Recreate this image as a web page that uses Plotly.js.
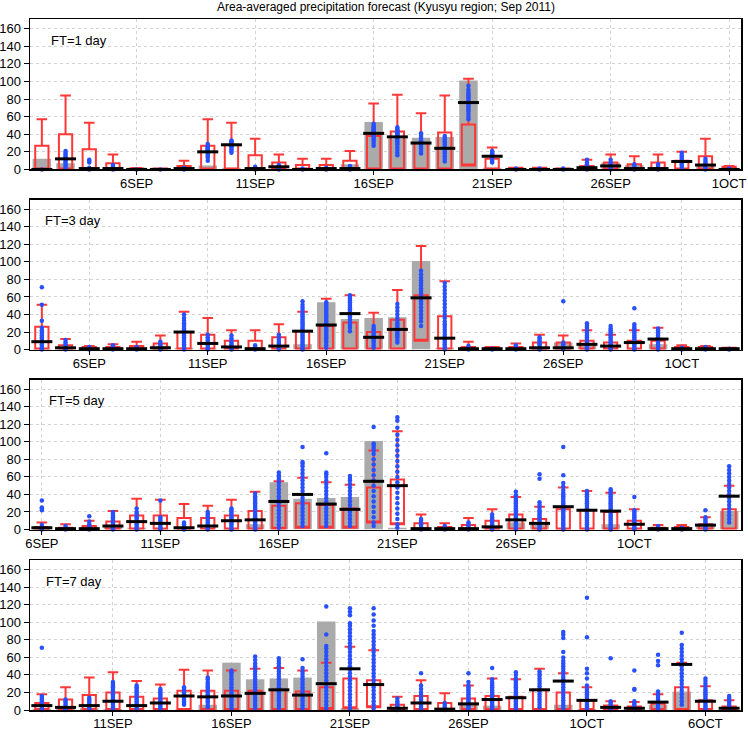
<!DOCTYPE html>
<html>
<head>
<meta charset="utf-8">
<script src="https://cdn.plot.ly/plotly-3.0.1.min.js"></script>
<style>
  body { margin: 0; background: #fff; }
  #myDiv { width: 748px; height: 731px; }
</style>
</head>
<body>
<div id="myDiv"></div>
<script>
// tick labels (day number: Sep d = d, Oct d = 30 + d)
var tickVals = [6, 11, 16, 21, 26, 31, 36];
var tickText = ['6SEP', '11SEP', '16SEP', '21SEP', '26SEP', '1OCT', '6OCT'];

// observed area-averaged precipitation, Sep 2 .. Oct 7
var obsStart = 2;
var obs = [12, 7, 1, 0, 0.5, 0, 1.5, 4.5, 2, 1, 0, 0, 0.5, 6, 54, 35, 36, 37, 101, 2,
           0, 0, 0, 1, 8, 5, 0, 0, 6, 1, 0, 0, 6, 21, 0, 0];

// FT=1 day, Sep 2 .. Oct 1
var ft1Start = 2;
var ft1Bot  = [0,0,0,0,0,0,0,0,0,0,0,0,0,0,0, 0,0,0,4.5,0,0,0,0,0,0,0,0,0,0,0];
var ft1Top  = [27,40,23,7,1,1,4,27,28,16,8,5,5,10,38, 43,30,42,51,12,2,2,1,4,8,6,8,10,15,3];
var ft1Whis = [57,84,53,17,1.5,1,10,57,53,35,17,12,12,21,75, 85,64,84,103,25,2,2,1,11,17,15,17,20,35,4];
var ft1Mean = [0,12,1,1,0,0,1,20,28,1,3,0,1,1,41, 37,30,24,76,15,0,0,0,2,4,1,1,9,5,0];
var ft1Members = [
  [0], [1,3,5,7,9,11,13,15,17,19,21], [0,1,2,8,10,11], [0,1,3,5], [0], [0], [0,1,2],
  [10,13,15,17,19,20,21,22,23,24,25,26,27,29], [19,21,23,25,26,27,28,29,30,31,32,33],
  [0,1,2,3], [0,1,2,3,4,5], [0,1], [0,1,2], [0,1,2,4],
  [27,30,33,35,37,38,39,40,41,42,43,44,45,46,47,48,50,52],
  [16,19,22,25,28,30,32,34,36,38,39,40,41,42,43,44,45,46,48],
  [18,21,24,26,28,29,30,31,32,33,35,37,39,41],
  [9,12,15,18,20,22,24,26,28,30,32,34,36,38],
  [57,60,63,66,68,70,72,74,76,77,78,80,82,84,86,88,91,95],
  [8,10,12,14,15,16,17,18,19,20,21], [0,1], [0,1], [0,1], [0,1,2,4,6,8,11],
  [0,2,4,6,8,11], [0,1,2,4,6], [0,1,2,4,6], [2,4,6,8,10,12,14,16,19],
  [0,2,4,6,8,10,12], [0,1]
];

// FT=3 day, Sep 4 .. Oct 3
var ft3Start = 4;
var ft3Bot  = [0,0,0,0,0,0,0,0,0,0,0,0,0,0,0, 0,10,0,0,0,0,0,0,0,0,0,0,0,0,0];
var ft3Top  = [26,5,3,3,4,7,20,17,10,10,14,21,27,31,20, 34,62,38,3,3,3,8,8,10,8,10,10,3,3,2];
var ft3Whis = [51,12,4,6,9,16,43,36,22,22,29,43,58,62,42, 68,118,78,9,3,7,17,16,22,17,22,25,5,4,2];
var ft3Mean = [9,2,1,1,1,2,20,7,3,1,4,21,28,41,14, 23,59,13,1,1,1,2,2,6,4,8,12,1,1,1];
var ft3Members = [
  [0,1,2,4,6,8,10,12,14,16,18,20,22,25,33,51,71], [0,1,2,4,6,8,11], [0,1,3], [0,1,3,5],
  [0,1,3], [0,1,2,4,6,9], [0,2,4,6,8,10,12,14,16,18,20,22,24,26,28,30,33,36,40],
  [0,1,2,4,6,8,10,12,14,17], [0,1,2,4,6,8,10,13,16], [0,1,3,5], [0,1,3,5,7,9,11,14,17],
  [0,2,4,6,8,10,12,14,16,18,20,22,24,26,28,30,32,34,36,38,40,42,45,48,51,55],
  [2,5,8,10,12,14,16,18,20,22,24,26,28,30,32,34,36,38,40,42,44,46,48,50,52,54],
  [21,25,28,31,34,36,38,40,42,44,46,48,50,52,54,56,58,60,62],
  [2,5,8,10,12,14,16,18,20,22,24,27],
  [8,11,14,16,18,20,22,24,26,28,30,33,36,40,44,48,52],
  [27,32,36,40,44,48,52,55,58,61,64,67,70,73,76,79,82,86,90],
  [0,2,4,6,8,10,12,14,17,20,23,26,29,32,36,40,44,48,52,56,60,64,68,72,76],
  [0,1,2,4], [0,1], [0,1,3,5], [0,1,2,4,6,8,10,12,14], [0,1,2,4,6,8,55],
  [0,1,2,4,6,8,10,12,14,16,18,20,22,25,27,30], [0,1,2,4,6,8,10,12,14,16,18,20,22,24,27],
  [0,1,2,4,6,8,10,12,14,16,18,20,22,24,26,29,47], [0,2,4,6,8,10,12,14,16,18,20,22,24],
  [0,1,2], [0,1,3], [0,1]
];

// FT=5 day, Sep 6 .. Oct 5
var ft5Start = 6;
var ft5Bot  = [0,0,0,0,0,0,0,0,0,0,1,2,2,2,8, 6,0,0,0,0,0,0,0,0,0,0,0,0,0,0];
var ft5Top  = [3,2,4,9,16,16,13,13,16,21,27,30,28,24,48, 57,7,3,5,10,17,12,23,22,20,10,2,3,6,23];
var ft5Whis = [8,6,10,21,35,34,29,27,34,43,55,59,54,51,90, 112,17,7,13,23,37,26,48,44,42,23,5,5,14,50];
var ft5Mean = [2,1,1,4,9,7,2,4,10,11,32,40,29,23,55, 50,1,1,1,3,11,7,26,22,21,6,1,1,5,38];
var ft5Members = [
  [0,1,2,3,5,22,24,25,33], [0,1,2,4], [0,1,2,4,6,9,15], [0,1,2,4,6,8,10,12,14,16,18,20],
  [0,2,4,6,8,10,12,14,16,18,20,24], [0,1,2,4,6,8,10,12,14,33], [0,1,2,4,6,8],
  [0,1,2,4,6,8,10,12,14,16,18,20], [0,2,4,6,8,10,12,14,16,18,20,22,24],
  [0,2,4,6,8,10,12,14,16,18,20,22,24,26,28,30,32,34,36,38,41],
  [2,6,10,14,18,22,26,30,34,38,42,46,50,54,57,60,62,65],
  [4,8,12,16,20,24,28,32,36,40,44,48,52,56,60,64,68,72,75,77,94],
  [4,8,12,16,20,24,28,32,36,40,44,48,52,56,60,63,65,87],
  [4,8,12,16,20,24,28,32,36,40,44,48,52,56,58,61],
  [4,8,14,20,26,32,38,44,50,56,62,68,74,80,86,90,93,96,98,117],
  [2,6,12,18,24,30,36,42,48,54,60,66,72,78,84,90,96,102,108,116,124,128],
  [0,1,2,4,6,8,10,12], [0,1,2,4], [0,1,2,4,6,8], [0,1,2,4,6,8,10,12,14,17],
  [0,2,4,6,8,10,12,14,16,18,20,22,24,26,28,30,32,34,36,39,43],
  [0,2,4,6,8,10,12,14,16,18,20,22,25,28,31,58,63],
  [0,2,4,6,8,10,12,14,16,18,20,22,24,26,28,30,32,34,36,38,40,42,45,49,53,62,94],
  [0,2,4,6,8,10,12,14,16,18,20,22,24,26,28,30,32,34,36,38,40,42,44],
  [0,2,4,6,8,10,12,14,16,18,20,22,24,26,28,30,32,34,36,38,40,42,44,46],
  [0,1,2,4,6,8,10,12,14,16,18,20,22,37], [0,1,2,4], [0,1,2], [0,1,2,4,6,8,10,12,14,22],
  [8,12,16,20,24,28,32,36,40,44,48,52,56,60,64,68,72]
];

// FT=7 day, Sep 8 .. Oct 7
var ft7Start = 8;
var ft7Bot  = [0,0,0,0,0,0,0,0,0,0,0,0,1,2,3, 0,0,0,0,0,0,0,0,0,0,0,0,0,0,0];
var ft7Top  = [8,12,17,20,15,13,22,22,22,22,23,21,26,36,34, 6,16,8,13,16,15,23,20,11,5,4,7,26,11,4];
var ft7Whis = [18,26,37,43,33,29,46,45,45,47,48,45,54,72,68, 15,34,19,28,36,35,47,42,26,10,9,18,54,27,11];
var ft7Mean = [5,3,5,10,5,8,16,15,16,19,23,17,30,47,29, 2,8,1,7,12,14,23,33,11,3,2,9,52,10,2];
var ft7Members = [
  [0,1,2,4,6,8,10,12,14,16,71], [0,1,2,4,6,8,10,12], [0,1,2,4,6,8,10,12,14],
  [0,2,4,6,8,10,12,14,16,18,20,22,24,26,28,30,32], [0,2,4,6,8,10,12,14,16,18,20,22,24,26,28],
  [0,2,4,6,8,10,12,14,16,18,20,22,24], [6,8,10,12,14,16,18,20,22,24,26],
  [3,5,8,10,12,14,16,18,20,22,24,26,28,30,32,35,37],
  [2,5,8,11,14,17,20,23,26,29,32,35,38,41,43,45],
  [2,5,8,11,14,17,20,23,26,29,32,35,38,41,44,47,50,53,57,61],
  [2,5,8,11,14,17,20,23,26,29,32,35,38,41,44,47,50,53,56,59],
  [2,5,8,11,14,17,20,23,26,29,32,35,38,41,44,48,58],
  [2,6,10,14,18,22,26,30,34,38,42,46,50,54,58,62,66,70,73,86,118],
  [2,6,10,14,18,22,26,30,34,38,42,46,50,54,58,62,66,70,72,76,80,84,88,92,96,99,108,112,116],
  [2,6,10,14,18,22,26,30,34,38,42,46,50,54,58,62,66,70,74,78,82,86,90,96,102,109,116],
  [0,1,2,4,6,8,10,13], [0,2,4,6,8,10,12,14,17,20,24,28,42], [0,1,2,4,6,8],
  [0,2,4,6,8,10,12,14,16,18,20,22,24,26,28,32,42],
  [0,2,4,6,8,10,12,14,16,18,20,22,24,26,28,30,32,35,48],
  [0,2,4,6,8,10,12,14,16,18,20,22,24,26,28,30,32,34,36,40,43],
  [3,6,9,12,15,18,21,24,27,30,33,36,39,41,44],
  [2,5,8,11,14,17,20,23,26,29,32,35,38,41,44,47,50,53,56,60,66,82,86,89],
  [0,2,4,6,8,10,12,14,16,18,20,22,24,28,36,42,47,83,128],
  [0,1,2,4,6,8,10,59], [0,1,2,4,6,8,10,23,24,45],
  [0,2,4,6,8,10,12,14,16,18,21,51,56,63],
  [6,10,14,18,22,26,30,34,38,42,46,50,54,58,62,66,70,74,88],
  [0,2,4,6,8,10,12,14,16,18,20,22,24,27,30,33,36],
  [0,1,2,4,6,8,10,12,14,16]
];

var panels = [
  { label: 'FT=1 day', start: ft1Start, bot: ft1Bot, top: ft1Top, whis: ft1Whis, mean: ft1Mean, mem: ft1Members, lx: 0.027 },
  { label: 'FT=3 day', start: ft3Start, bot: ft3Bot, top: ft3Top, whis: ft3Whis, mean: ft3Mean, mem: ft3Members, lx: 0.018 },
  { label: 'FT=5 day', start: ft5Start, bot: ft5Bot, top: ft5Top, whis: ft5Whis, mean: ft5Mean, mem: ft5Members, lx: 0.0235 },
  { label: 'FT=7 day', start: ft7Start, bot: ft7Bot, top: ft7Top, whis: ft7Whis, mean: ft7Mean, mem: ft7Members, lx: 0.019 }
];

// plot area domains (pixels)
var domains = [[0.7823, 1.0], [0.5216, 0.7386], [0.2612, 0.4782], [0.0, 0.217]];

var data = [];
var layout = {
  width: 748, height: 731,
  margin: { l: 30, r: 7, t: 19, b: 21 },
  paper_bgcolor: '#fff', plot_bgcolor: '#fff',
  font: { family: 'Liberation Sans, Arial, sans-serif', size: 13, color: '#000' },
  showlegend: false,
  barmode: 'overlay', boxmode: 'overlay',
  title: { text: 'Area-averaged precipitation forecast (Kyusyu region; Sep 2011)',
           font: { size: 12 }, x: 0.516, xanchor: 'center', y: 0.991, yanchor: 'middle' },
  annotations: []
};

panels.forEach(function (p, k) {
  var n = k + 1;
  var xa = n === 1 ? 'x' : 'x' + n;
  var ya = n === 1 ? 'y' : 'y' + n;

  var days = p.top.map(function (v, i) { return p.start + i; });
  var obsWin = days.map(function (d) { return obs[d - obsStart]; });

  // ensemble members as dots
  var mx = [], my = [];
  p.mem.forEach(function (vals, i) {
    vals.forEach(function (v) { mx.push(days[i]); my.push(v); });
  });

  data.push({
    type: 'bar', x: days, y: obsWin, width: 0.78,
    marker: { color: '#aaaaaa', line: { width: 0 } },
    xaxis: xa, yaxis: ya, hoverinfo: 'skip'
  });
  data.push({
    type: 'box', x: days, q1: p.bot, median: p.bot, q3: p.top,
    lowerfence: p.bot, upperfence: p.whis,
    width: 0.56, whiskerwidth: 0.8, boxpoints: false,
    line: { color: 'rgb(255,55,55)', width: 2 },
    fillcolor: 'rgba(0,0,0,0)',
    xaxis: xa, yaxis: ya, hoverinfo: 'skip'
  });
  data.push({
    type: 'scatter', mode: 'markers', x: mx, y: my,
    marker: { color: '#2850ff', size: 4.5 },
    cliponaxis: false, xaxis: xa, yaxis: ya, hoverinfo: 'skip'
  });
  data.push({
    type: 'scatter', mode: 'markers', x: days, y: p.mean,
    marker: { symbol: 'line-ew', size: 15, line: { color: '#000', width: 3 } },
    cliponaxis: false, xaxis: xa, yaxis: ya, hoverinfo: 'skip'
  });

  var axisCommon = {
    showline: true, mirror: true, linecolor: '#000', linewidth: 1.5,
    ticks: 'outside', tickcolor: '#000', tickwidth: 1,
    showgrid: true, gridcolor: '#d2d2d2', griddash: 'dot', gridwidth: 1,
    zeroline: false, fixedrange: true
  };
  layout['xaxis' + (n === 1 ? '' : n)] = Object.assign({}, axisCommon, {
    anchor: ya, domain: [0, 1],
    range: [p.start - 0.5, p.start + 29.5],
    tickmode: 'array', tickvals: tickVals, ticktext: tickText, ticklen: 4,
    ticklabelstandoff: -3
  });
  layout['yaxis' + (n === 1 ? '' : n)] = Object.assign({}, axisCommon, {
    anchor: xa, domain: domains[k],
    range: [0, 171], tickmode: 'array',
    tickvals: [0, 20, 40, 60, 80, 100, 120, 140, 160], ticklen: 5
  });

  layout.annotations.push({
    text: p.label, showarrow: false,
    xref: xa + ' domain', yref: ya + ' domain',
    x: p.lx, y: 0.86, xanchor: 'left', yanchor: 'middle',
    font: { size: 13 }
  });
});

Plotly.newPlot('myDiv', data, layout, { staticPlot: true });
</script>
</body>
</html>
